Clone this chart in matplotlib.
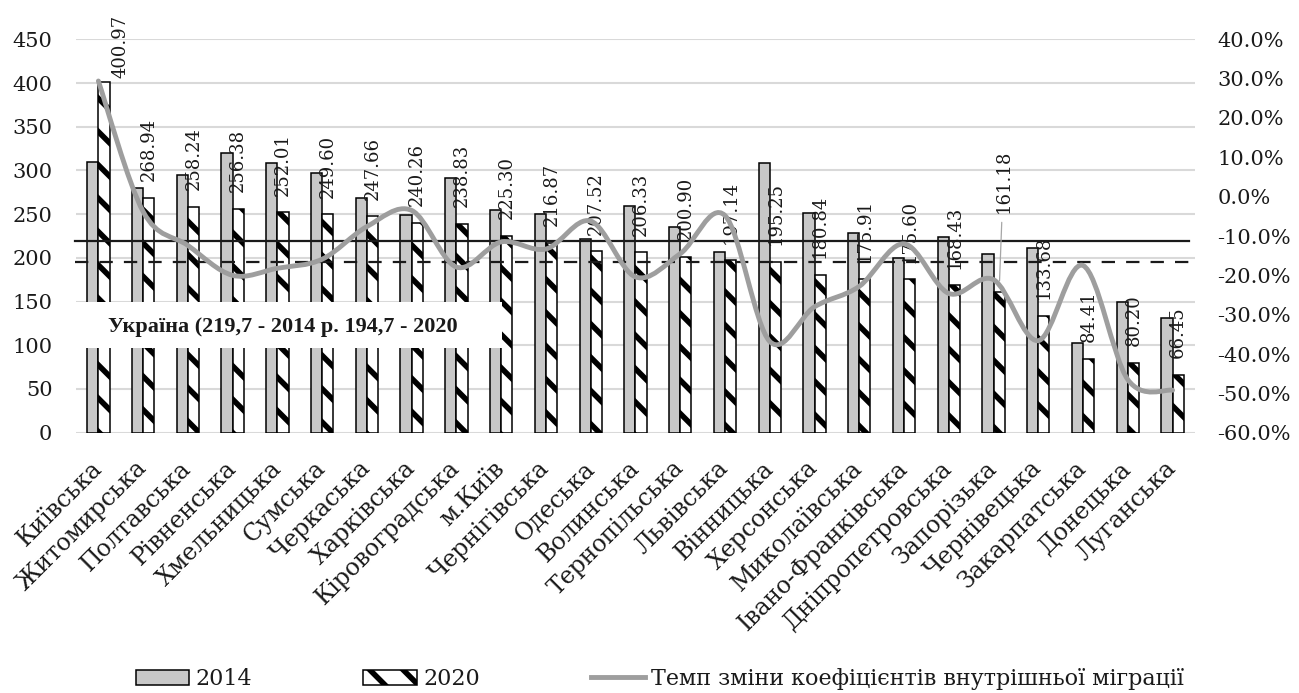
import numpy as np
import matplotlib
matplotlib.use("Agg")
import matplotlib.pyplot as plt
from matplotlib.path import Path
from matplotlib.patches import PathPatch, Patch, Rectangle
from matplotlib.lines import Line2D
from matplotlib.ticker import FuncFormatter

plt.rcParams['font.family'] = ['DejaVu Serif']
plt.rcParams['hatch.linewidth'] = 4.0
plt.rcParams['hatch.color'] = 'black'

regions = ["Київська", "Житомирська", "Полтавська", "Рівненська", "Хмельницька",
           "Сумська", "Черкаська", "Харківська", "Кіровоградська", "м.Київ",
           "Чернігівська", "Одеська", "Волинська", "Тернопільська", "Львівська",
           "Вінницька", "Херсонська", "Миколаївська", "Івано-Франківська",
           "Дніпропетровська", "Запорізька", "Чернівецька", "Закарпатська",
           "Донецька", "Луганська"]

# коефіцієнти внутрішньої міграції
v2014 = [310.0, 279.6, 294.8, 320.3, 308.2, 296.7, 268.1, 249.0, 291.0, 254.7,
         250.2, 221.2, 259.3, 235.0, 207.0, 308.9, 251.0, 228.0, 199.5, 223.5,
         204.4, 210.9, 102.3, 149.9, 130.9]
v2020 = [400.97, 268.94, 258.24, 256.38, 252.01, 249.60, 247.66, 240.26, 238.83,
         225.30, 216.87, 207.52, 206.33, 200.90, 197.14, 195.25, 180.84, 175.91,
         175.60, 168.43, 161.18, 133.68, 84.41, 80.20, 66.45]
# темп зміни, %
rate = [29.4, -3.8, -12.4, -20.0, -18.2, -15.9, -7.6, -3.5, -17.9, -11.5,
        -13.3, -6.2, -20.4, -14.5, -4.8, -36.8, -28.0, -22.8, -12.0, -24.6,
        -21.1, -36.6, -17.5, -46.5, -49.2]

ukraine_2014 = 219.7
ukraine_2020 = 194.7
ukraine_text = "Україна (219,7 - 2014 р. 194,7 - 2020"

GRAY_BAR = '#c8c8c8'
LINE_GRAY = '#9e9e9e'
TXT = '#1a1a1a'

fig = plt.figure(figsize=(12.99, 6.93), dpi=100)
ax = fig.add_axes([0.0585, 0.3756, 0.8614, 0.5677])

x = np.arange(len(regions))
w = 0.25
ax.bar(x - w / 2, v2014, w, color=GRAY_BAR, edgecolor='black', linewidth=1.1, zorder=2)
ax.bar(x + w / 2, v2020, w, color='white', edgecolor='black', linewidth=1.1,
       hatch='\\', zorder=2)

ax.set_xlim(-0.5, len(regions) - 0.5)
ax.set_ylim(0, 450)
ax.set_yticks(np.arange(0, 451, 50))
ax.grid(axis='y', color='#d9d9d9', linewidth=1.5)
ax.set_axisbelow(True)
for s in ax.spines.values():
    s.set_visible(False)
ax.tick_params(axis='y', length=0, pad=17, labelsize=15, labelcolor=TXT)
ax.set_xticks(x)
ax.set_xticklabels(regions, rotation=45, ha='right', va='center',
                   rotation_mode='anchor', fontsize=17, color=TXT)
ax.tick_params(axis='x', length=0, pad=23)

# підписи значень 2020
for i, v in enumerate(v2020):
    dx, dy = 0, 12
    if i == 0:
        dx, dy = 12, 3
    if regions[i] == "Запорізька":
        ax.annotate(f"{v:.2f}", xy=(i + w / 2, v), xytext=(3, 57),
                    textcoords='offset points', rotation=90, ha='center',
                    va='bottom', fontsize=13, color=TXT, zorder=6,
                    arrowprops=dict(arrowstyle='-', color='#a6a6a6', lw=0.9,
                                    shrinkA=5, shrinkB=8))
        continue
    ax.annotate(f"{v:.2f}", xy=(i + w / 2, v), xytext=(dx, dy),
                textcoords='offset points', rotation=90, ha='center',
                va='bottom', fontsize=13, color=TXT, zorder=6)

# середні по Україні
ax.plot([-0.53, 24.37], [ukraine_2014] * 2, color='#1a1a1a', lw=1.6, zorder=4,
        clip_on=False)
ax.plot([-0.53, 24.5], [ukraine_2020] * 2, color='#1a1a1a', lw=1.6, zorder=4,
        ls=(0, (6, 5)), clip_on=False)

ax.add_patch(Rectangle((0.0, 0.215), 0.381, 0.117, transform=ax.transAxes,
                       facecolor='white', edgecolor='none', zorder=5))
ax.text(0.185, 0.256, ukraine_text, transform=ax.transAxes, ha='center',
        va='baseline', fontsize=16, fontweight='bold', family='Liberation Serif',
        color=TXT, zorder=6)

# права вісь: темп зміни, згладжена лінія
ax2 = ax.twinx()
ax2.set_ylim(-60, 40)
ax2.set_yticks(np.arange(-60, 41, 10))
ax2.yaxis.set_major_formatter(FuncFormatter(lambda v, p: f"{v:.1f}%"))
ax2.tick_params(axis='y', length=0, pad=16, labelsize=15, labelcolor=TXT)
for s in ax2.spines.values():
    s.set_visible(False)

pts = np.column_stack([x, rate]).astype(float)
verts = [tuple(pts[0])]
codes = [Path.MOVETO]
n = len(pts)
for k in range(n - 1):
    p0 = pts[max(k - 1, 0)]
    p1 = pts[k]
    p2 = pts[k + 1]
    p3 = pts[min(k + 2, n - 1)]
    c1 = p1 + (p2 - p0) / 6.0
    c2 = p2 - (p3 - p1) / 6.0
    verts += [tuple(c1), tuple(c2), tuple(p2)]
    codes += [Path.CURVE4] * 3
ax2.add_patch(PathPatch(Path(verts, codes), fill=False, edgecolor=LINE_GRAY,
                        lw=3.5, capstyle='round', joinstyle='round', zorder=7))

handles = [Patch(facecolor=GRAY_BAR, edgecolor='black', linewidth=1.1),
           Patch(facecolor='white', edgecolor='black', linewidth=1.1, hatch='\\'),
           Line2D([0], [0], color=LINE_GRAY, lw=3.5)]
labels = ["2014", "2020", "Темп зміни коефіцієнтів внутрішньої міграції"]
fig.legend(handles, labels, loc='center', bbox_to_anchor=(0.508, 0.02), ncol=3,
           frameon=False, fontsize=16, handlelength=2.4, handleheight=0.68,
           handletextpad=0.3, columnspacing=5.0, labelcolor=TXT)

fig.savefig("out.png", dpi=100)
